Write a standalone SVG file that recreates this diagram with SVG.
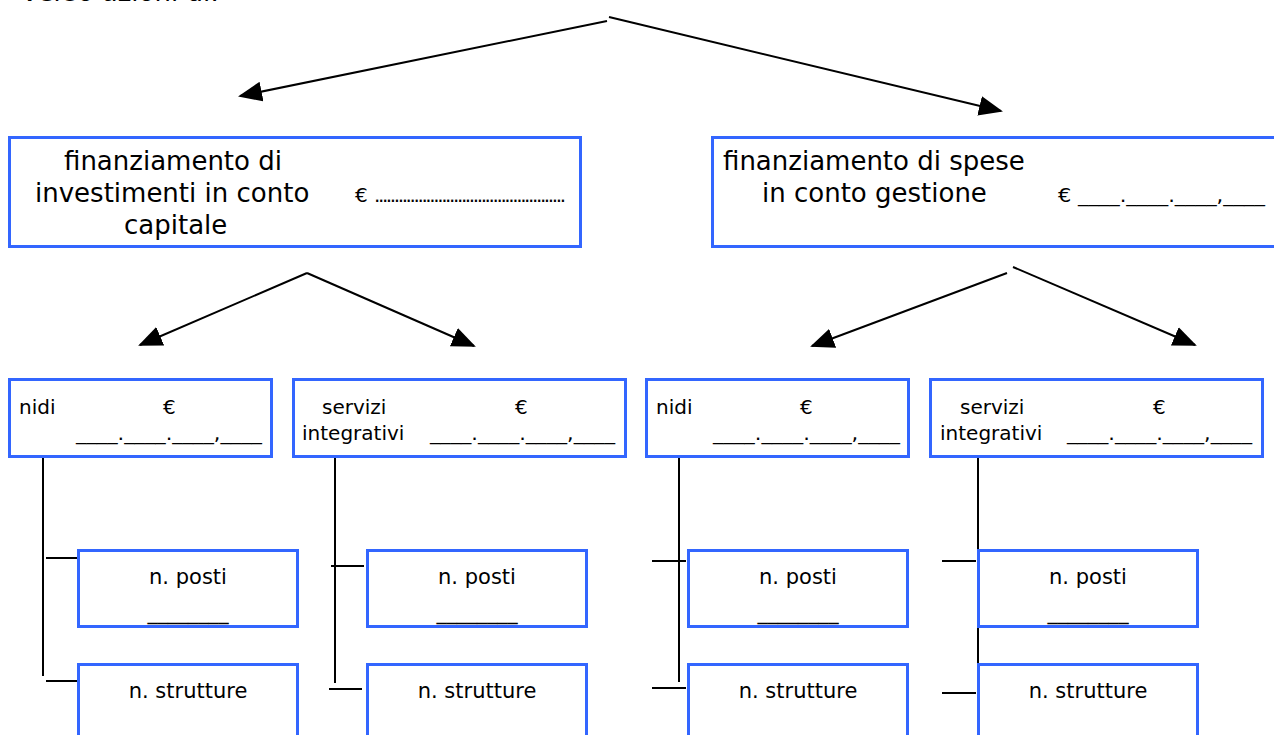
<svg xmlns="http://www.w3.org/2000/svg" width="1274" height="735" viewBox="0 0 1274 735">
<defs>
<style>
.box{fill:#fff;stroke:#3366ff;stroke-width:3}
.ln{stroke:#000;stroke-width:2;fill:none}
.t26{font-family:"DejaVu Sans",Verdana,sans-serif;font-size:26px;fill:#000}
.t20{font-family:"DejaVu Sans",Verdana,sans-serif;font-size:20px;fill:#000}
.t21{font-family:"DejaVu Sans",Verdana,sans-serif;font-size:21px;fill:#000}
.mid{text-anchor:middle}
</style>
<marker id="ah" markerUnits="userSpaceOnUse" markerWidth="24" markerHeight="20" viewBox="0 0 24 20" refX="22" refY="10" orient="auto">
<path d="M0,0 L24,10 L0,20 Z" fill="#000"/>
</marker>
</defs>
<rect width="1274" height="735" fill="#fff"/>
<text class="t26" x="22" y="1">verso azioni di:</text>

<g id="connectors">
<line class="ln" x1="607" y1="21" x2="240" y2="96" marker-end="url(#ah)"/>
<line class="ln" x1="609" y1="17" x2="1001" y2="111" marker-end="url(#ah)"/>
<line class="ln" x1="307" y1="273" x2="140" y2="345" marker-end="url(#ah)"/>
<line class="ln" x1="307" y1="273" x2="474" y2="346" marker-end="url(#ah)"/>
<line class="ln" x1="1007" y1="273" x2="812" y2="346" marker-end="url(#ah)"/>
<line class="ln" x1="1013" y1="267" x2="1195" y2="345" marker-end="url(#ah)"/>
<line class="ln" x1="43" y1="448" x2="43" y2="676"/>
<line class="ln" x1="46" y1="558" x2="79" y2="558"/>
<line class="ln" x1="46" y1="681" x2="79" y2="681"/>
<line class="ln" x1="335" y1="438" x2="335" y2="683"/>
<line class="ln" x1="331" y1="566" x2="364" y2="566"/>
<line class="ln" x1="329" y1="689" x2="362" y2="689"/>
<line class="ln" x1="679" y1="455" x2="679" y2="682"/>
<line class="ln" x1="652" y1="561" x2="686" y2="561"/>
<line class="ln" x1="652" y1="688" x2="686" y2="688"/>
<line class="ln" x1="978" y1="450" x2="978" y2="687"/>
<line class="ln" x1="942" y1="561" x2="976" y2="561"/>
<line class="ln" x1="942" y1="693" x2="976" y2="693"/>
</g>

<g id="box-investimenti">
<rect class="box" x="9.5" y="137.5" width="571" height="109"/>
<text class="t26" x="64" y="170">finanziamento di</text>
<text class="t26" x="35" y="202">investimenti in conto</text>
<text class="t26" x="124" y="234">capitale</text>
<text class="t20" x="355" y="202">€</text>
<text class="t20" x="374" y="202" font-size="13" textLength="192" lengthAdjust="spacing">................................................</text>
</g>

<g id="box-gestione">
<rect class="box" x="712.5" y="137.5" width="580" height="109"/>
<text class="t26" x="723" y="170">finanziamento di spese</text>
<text class="t26" x="762" y="202">in conto gestione</text>
<text class="t20" x="1058" y="202" textLength="207" lengthAdjust="spacingAndGlyphs">€ ____.____.____,____</text>
</g>

<g id="nidi-left">
<rect class="box" x="9.5" y="379.5" width="262" height="77"/>
<text class="t20" x="19" y="414">nidi</text>
<text class="t20" x="163" y="414">€</text>
<text class="t20" x="76" y="440" textLength="186" lengthAdjust="spacingAndGlyphs">____.____.____,____</text>
</g>

<g id="servizi-left">
<rect class="box" x="293.5" y="379.5" width="332" height="77"/>
<text class="t20" x="322" y="414">servizi</text>
<text class="t20" x="302" y="440">integrativi</text>
<text class="t20" x="515" y="414">€</text>
<text class="t20" x="430" y="440" textLength="185" lengthAdjust="spacingAndGlyphs">____.____.____,____</text>
</g>

<g id="nidi-right">
<rect class="box" x="646.5" y="379.5" width="262" height="77"/>
<text class="t20" x="656" y="414">nidi</text>
<text class="t20" x="800" y="414">€</text>
<text class="t20" x="713" y="440" textLength="187" lengthAdjust="spacingAndGlyphs">____.____.____,____</text>
</g>

<g id="servizi-right">
<rect class="box" x="930.5" y="379.5" width="332" height="77"/>
<text class="t20" x="960" y="414">servizi</text>
<text class="t20" x="940" y="440">integrativi</text>
<text class="t20" x="1153" y="414">€</text>
<text class="t20" x="1067" y="440" textLength="185" lengthAdjust="spacingAndGlyphs">____.____.____,____</text>
</g>

<g id="posti-1">
<rect class="box" x="78.5" y="550.5" width="219" height="76"/>
<text class="t21 mid" x="188" y="584">n. posti</text>
<text class="t21 mid" x="188" y="619" textLength="81" lengthAdjust="spacingAndGlyphs">________</text>
</g>
<g id="strutture-1">
<rect class="box" x="78.5" y="664.5" width="219" height="90"/>
<text class="t21 mid" x="188" y="698">n. strutture</text>
</g>

<g id="posti-2">
<rect class="box" x="367.5" y="550.5" width="219" height="76"/>
<text class="t21 mid" x="477" y="584">n. posti</text>
<text class="t21 mid" x="477" y="619" textLength="81" lengthAdjust="spacingAndGlyphs">________</text>
</g>
<g id="strutture-2">
<rect class="box" x="367.5" y="664.5" width="219" height="90"/>
<text class="t21 mid" x="477" y="698">n. strutture</text>
</g>

<g id="posti-3">
<rect class="box" x="688.5" y="550.5" width="219" height="76"/>
<text class="t21 mid" x="798" y="584">n. posti</text>
<text class="t21 mid" x="798" y="619" textLength="81" lengthAdjust="spacingAndGlyphs">________</text>
</g>
<g id="strutture-3">
<rect class="box" x="688.5" y="664.5" width="219" height="90"/>
<text class="t21 mid" x="798" y="698">n. strutture</text>
</g>

<g id="posti-4">
<rect class="box" x="978.5" y="550.5" width="219" height="76"/>
<text class="t21 mid" x="1088" y="584">n. posti</text>
<text class="t21 mid" x="1088" y="619" textLength="81" lengthAdjust="spacingAndGlyphs">________</text>
</g>
<g id="strutture-4">
<rect class="box" x="978.5" y="664.5" width="219" height="90"/>
<text class="t21 mid" x="1088" y="698">n. strutture</text>
</g>
</svg>
